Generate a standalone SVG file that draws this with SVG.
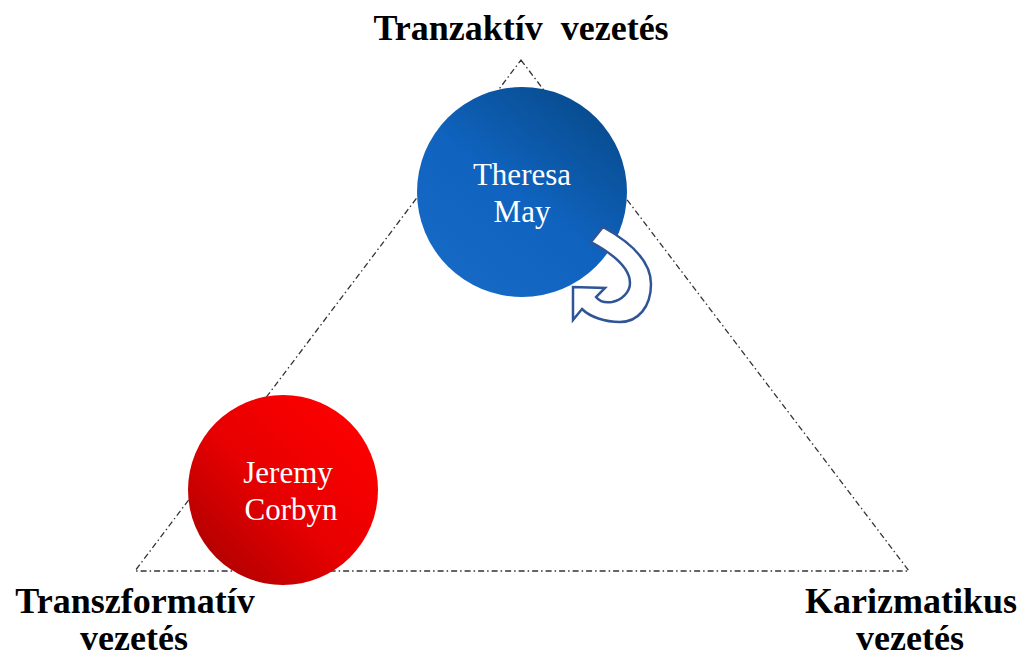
<svg xmlns="http://www.w3.org/2000/svg" width="1023" height="658" viewBox="0 0 1023 658">
<style>
.lbl{font-family:"Liberation Serif","Times New Roman",serif;font-weight:bold;font-size:36px;fill:#000;text-anchor:middle;white-space:pre}
.name{font-family:"Liberation Serif","Times New Roman",serif;font-size:31px;fill:#fff;text-anchor:middle}
.tri{fill:none;stroke:#333;stroke-width:1.3;stroke-dasharray:6 3 1.5 3}
</style>
<defs>
<linearGradient id="gb" x1="0.85" y1="0.1" x2="0.2" y2="0.95">
<stop offset="0" stop-color="#084c8f"/>
<stop offset="0.5" stop-color="#0f62bd"/>
<stop offset="1" stop-color="#166ac6"/>
</linearGradient>
<linearGradient id="gr" x1="0.9" y1="0.1" x2="0.1" y2="0.9">
<stop offset="0" stop-color="#ff0000"/>
<stop offset="0.55" stop-color="#e60000"/>
<stop offset="1" stop-color="#b00000"/>
</linearGradient>
</defs>
<g id="connectors">
<path class="tri" d="M521 60 L909 571 L135 571 Z"/>
</g>
<g id="node-tranzaktiv"><text class="lbl" x="521" y="40">Tranzaktív  vezetés</text></g>
<g id="node-transzformativ"><text class="lbl" x="135" y="613">Transzformatív</text><text class="lbl" x="134" y="650">vezetés</text></g>
<g id="node-karizmatikus"><text class="lbl" x="911" y="613">Karizmatikus</text><text class="lbl" x="910" y="650">vezetés</text></g>
<g id="node-may">
<circle cx="522" cy="192" r="105" fill="url(#gb)"/>
<text class="name" x="522" y="185">Theresa</text>
<text class="name" x="522" y="222">May</text>
<path d="M603 227 C632 243 651 262 651 284 C651 307 638 322 620 322 C605 322 590 317 582 309 L573 320 L573 287 L605 288 L596 297 C600 302 606 303 612 302 C622 300 630 292 630 283 C630 268 615 255 591 242 Z" fill="#fff" stroke="#2f5597" stroke-width="2.5" stroke-linejoin="miter"/>
</g>
<g id="node-corbyn">
<circle cx="283" cy="490" r="95" fill="url(#gr)"/>
<text class="name" x="288" y="483">Jeremy</text>
<text class="name" x="291" y="520">Corbyn</text>
</g>
</svg>
